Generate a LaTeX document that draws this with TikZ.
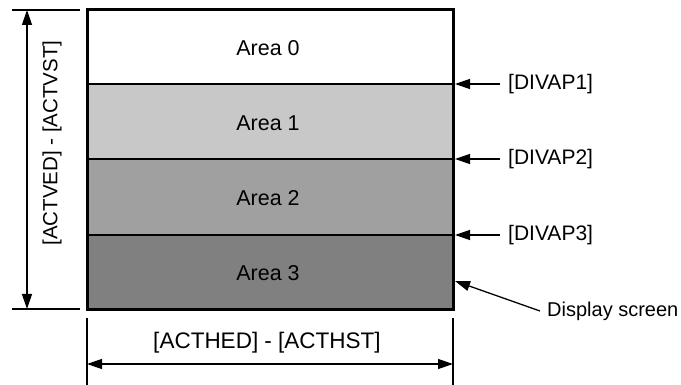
\documentclass[tikz,border=0pt]{standalone}
\usepackage{fontspec}
\setmainfont{Liberation Sans}
\usetikzlibrary{arrows.meta}
\definecolor{areaA}{RGB}{200,200,200}
\definecolor{areaB}{RGB}{160,160,160}
\definecolor{areaC}{RGB}{128,128,128}
\tikzset{
  thin line/.style={line width=1.3pt},
  dim arrow/.style={thin line, {Triangle[length=15pt,width=10pt]}-{Triangle[length=15pt,width=10pt]}},
  tag arrow/.style={thin line, -{Triangle[length=15pt,width=10pt]}},
  tag/.style={anchor=west, inner xsep=8pt, font=\fontsize{21}{25}\selectfont}
}
\begin{document}
\begin{tikzpicture}[x=1pt, y=-1pt, font=\fontsize{21.5}{25}\selectfont]
\useasboundingbox (0,0) rectangle (681,385);

% areas of the display screen
\fill[areaA] (87,84) rectangle (453,159);
\fill[areaB] (87,159) rectangle (453,235);
\fill[areaC] (87,235) rectangle (453,309);
\foreach \y in {84,159,235}
\draw[thin line] (87,\y) -- (453,\y);
\draw[line width=3pt] (87,10) rectangle (453,309);

\node (area0) at (268,48) {Area 0};
\node (area1) at (268,123) {Area 1};
\node (area2) at (268,198) {Area 2};
\node (area3) at (268,273) {Area 3};

% divider positions
\foreach \n/\y in {1/84,2/159,3/235}{
\coordinate (d\n) at (455,\y);
\node[tag] (divap\n) at (500,\y) {[DIVAP\n]};
\draw[tag arrow] (divap\n.west) -- (d\n);
}

\coordinate (scr) at (455,281);
\node[tag, inner xsep=7pt, font=\fontsize{20}{24}\selectfont] (screen) at (540,311) {Display screen};
\draw[tag arrow] (screen.west) -- (scr);

% vertical size
\coordinate (vt) at (27,10);
\coordinate (vb) at (27,309);
\draw[thin line] (12,10) -- (80,10) (12,309) -- (80,309);
\draw[dim arrow] (vt) -- (vb);
\node[rotate=90, font=\fontsize{20.5}{24}\selectfont] (vsize) at (52,143) {[ACTVED] - [ACTVST]};

% horizontal size
\coordinate (hl) at (87,364);
\coordinate (hr) at (453,364);
\draw[thin line] (87,318) -- (87,385) (453,318) -- (453,385);
\draw[dim arrow] (hl) -- (hr);
\node[font=\fontsize{22.5}{26}\selectfont] (hsize) at (267,343) {[ACTHED] - [ACTHST]};
\end{tikzpicture}
\end{document}
